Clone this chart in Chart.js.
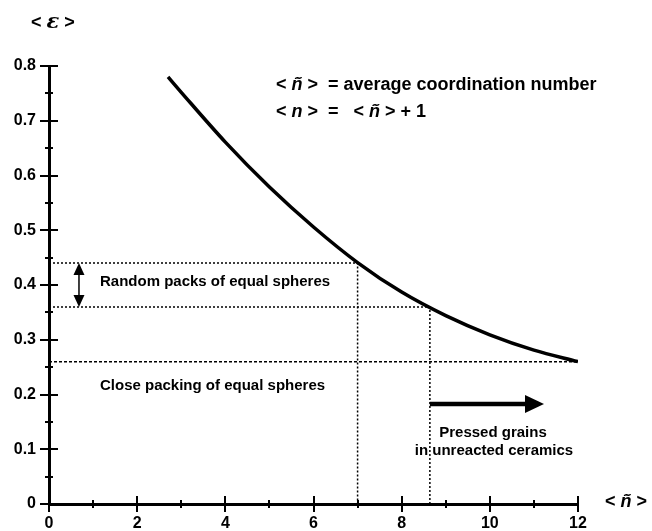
<!DOCTYPE html>
<html>
<head>
<meta charset="utf-8">
<script src="https://cdn.jsdelivr.net/npm/chart.js@4.4.1/dist/chart.umd.min.js"></script>
<style>
  html, body { margin: 0; padding: 0; background: #fff; }
  #wrap { width: 652px; height: 531px; }
</style>
</head>
<body>
<div id="wrap"><canvas id="porosityChart" width="652" height="531"></canvas></div>
<script>
// coordination number <ñ> vs porosity <ε>
const coordNumbers = [2.7, 3, 4, 5, 6, 7, 8, 9, 10, 11, 12];
const porosity = [0.78, 0.752, 0.661, 0.579, 0.506, 0.441, 0.387, 0.344, 0.309, 0.281, 0.26];

// random packs band and close packing
const randomPackN = [7, 8.64];
const randomPackEps = [0.44, 0.36];
const closePackEps = 0.26;

// ticks
const xTicks = [0, 2, 4, 6, 8, 10, 12];
const xMinor = [1, 3, 5, 7, 9, 11];
const yTicks = [0, 0.1, 0.2, 0.3, 0.4, 0.5, 0.6, 0.7, 0.8];
const yMinor = [0.05, 0.15, 0.25, 0.35, 0.45, 0.55, 0.65, 0.75];

const SANS = '"Liberation Sans", Arial, sans-serif';
const BOLD = 'bold 18px ' + SANS;
const BOLD_IT = 'italic bold 18px ' + SANS;

// draw a row of text pieces with different fonts
function drawRuns(ctx, runs, x, y) {
    ctx.textBaseline = 'middle';
    ctx.textAlign = 'left';
    runs.forEach(function (r) {
        ctx.font = r.f;
        ctx.fillText(r.t, x, y);
        x += ctx.measureText(r.t).width;
    });
}

function arrowHead(ctx, tipX, tipY, dx, dy, len, half) {
    // dx,dy = unit direction of the arrow
    const bx = tipX - dx * len, by = tipY - dy * len;
    ctx.beginPath();
    ctx.moveTo(tipX, tipY);
    ctx.lineTo(bx - dy * half, by + dx * half);
    ctx.lineTo(bx + dy * half, by - dx * half);
    ctx.closePath();
    ctx.fill();
}

const extras = {
    id: 'extras',
    afterDraw: function (chart) {
        const ctx = chart.ctx;
        const xs = chart.scales.x, ys = chart.scales.y;
        const x0 = xs.getPixelForValue(0), y0 = ys.getPixelForValue(0);
        ctx.save();
        ctx.strokeStyle = '#000';
        ctx.fillStyle = '#000';

        // tick marks
        ctx.lineWidth = 2;
        ctx.beginPath();
        yTicks.forEach(function (v) {
            const p = Math.round(ys.getPixelForValue(v));
            ctx.moveTo(x0 - 9, p); ctx.lineTo(v === 0 ? x0 : x0 + 9, p);
        });
        yMinor.forEach(function (v) {
            const p = Math.round(ys.getPixelForValue(v));
            ctx.moveTo(x0 - 4, p); ctx.lineTo(x0 + 4, p);
        });
        xTicks.forEach(function (v) {
            const p = Math.round(xs.getPixelForValue(v));
            ctx.moveTo(p, v === 0 ? y0 : y0 - 8); ctx.lineTo(p, y0 + 8);
        });
        xMinor.forEach(function (v) {
            const p = Math.round(xs.getPixelForValue(v));
            ctx.moveTo(p, y0 - 4); ctx.lineTo(p, y0 + 4);
        });
        ctx.stroke();

        // axis titles
        drawRuns(ctx, [
            { t: '< ', f: 'bold 18px ' + SANS },
            { t: 'ε', f: 'italic bold 21px "DejaVu Serif", serif' },
            { t: ' >', f: 'bold 18px ' + SANS }
        ], 31, 23);
        drawRuns(ctx, [
            { t: '< ', f: 'bold 18px ' + SANS },
            { t: 'ñ', f: 'italic bold 18px ' + SANS },
            { t: ' >', f: 'bold 18px ' + SANS }
        ], 605, 502);

        // legend-like notes
        drawRuns(ctx, [
            { t: '< ', f: BOLD }, { t: 'ñ', f: BOLD_IT },
            { t: ' >  = average coordination number', f: BOLD }
        ], 276, 85);
        drawRuns(ctx, [
            { t: '< ', f: BOLD }, { t: 'n', f: BOLD_IT },
            { t: ' >  =   < ', f: BOLD }, { t: 'ñ', f: BOLD_IT },
            { t: ' > + 1', f: BOLD }
        ], 276, 112);

        // annotations
        ctx.font = 'bold 15px ' + SANS;
        ctx.textAlign = 'left';
        ctx.textBaseline = 'middle';
        ctx.fillText('Random packs of equal spheres', 100, 282);
        ctx.fillText('Close packing of equal spheres', 100, 386);
        ctx.textAlign = 'center';
        ctx.fillText('Pressed grains', 493, 433);
        ctx.fillText('in unreacted ceramics', 494, 451);

        // double arrow for the random packing band
        const ax = xs.getPixelForValue(0.68);
        const aTop = ys.getPixelForValue(randomPackEps[0]);
        const aBot = ys.getPixelForValue(randomPackEps[1]);
        ctx.lineWidth = 1.5;
        ctx.beginPath();
        ctx.moveTo(ax, aTop + 8); ctx.lineTo(ax, aBot - 8);
        ctx.stroke();
        arrowHead(ctx, ax, aTop, 0, -1, 12, 5.5);
        arrowHead(ctx, ax, aBot, 0, 1, 12, 5.5);

        // thick arrow towards higher coordination
        const bx0 = xs.getPixelForValue(randomPackN[1]);
        const by = 404;
        ctx.lineWidth = 4.5;
        ctx.beginPath();
        ctx.moveTo(bx0, by); ctx.lineTo(527, by);
        ctx.stroke();
        arrowHead(ctx, 544, by, 1, 0, 19, 9);

        ctx.restore();
    }
};

const dotted = { borderColor: '#000', borderWidth: 1.5, borderDash: [2, 2], pointRadius: 0, fill: false, tension: 0 };

const config = {
    type: 'line',
    data: {
        datasets: [{
            label: 'porosity',
            data: coordNumbers.map(function (n, i) { return { x: n, y: porosity[i] }; }),
            borderColor: '#000',
            borderWidth: 3.5,
            pointRadius: 0,
            cubicInterpolationMode: 'monotone',
            fill: false
        },
        Object.assign({}, dotted, {
            label: 'upper random pack',
            data: [{ x: 0, y: randomPackEps[0] }, { x: randomPackN[0], y: randomPackEps[0] }, { x: randomPackN[0], y: 0 }]
        }),
        Object.assign({}, dotted, {
            label: 'lower random pack',
            data: [{ x: 0, y: randomPackEps[1] }, { x: randomPackN[1], y: randomPackEps[1] }, { x: randomPackN[1], y: 0 }]
        }),
        Object.assign({}, dotted, {
            label: 'close packing',
            borderDash: [3, 2],
            data: [{ x: 0, y: closePackEps }, { x: 12, y: closePackEps }]
        })]
    },
    plugins: [extras],
    options: {
        responsive: false,
        animation: false,
        layout: { padding: { top: 66, right: 74, left: 0, bottom: 0 } },
        scales: {
            x: {
                type: 'linear',
                min: 0,
                max: 12,
                afterFit: function (s) { s.height = 27; },
                afterBuildTicks: function (s) { s.ticks = xTicks.map(function (v) { return { value: v }; }); },
                ticks: {
                    color: '#000',
                    padding: 2,
                    font: { family: SANS, size: 16, weight: 'bold' },
                    maxRotation: 0
                },
                grid: { display: true, drawOnChartArea: false, drawTicks: true, tickLength: 8, color: 'rgba(0,0,0,0)' },
                border: { display: true, color: '#000', width: 3 }
            },
            y: {
                type: 'linear',
                min: 0,
                max: 0.8,
                afterFit: function (s) { s.width = 49; },
                afterBuildTicks: function (s) { s.ticks = yTicks.map(function (v) { return { value: v }; }); },
                ticks: {
                    color: '#000',
                    padding: 3,
                    font: { family: SANS, size: 16, weight: 'bold' },
                    callback: function (v) { return v === 0 ? '0' : v.toFixed(1); }
                },
                grid: { display: true, drawOnChartArea: false, drawTicks: true, tickLength: 10, color: 'rgba(0,0,0,0)' },
                border: { display: true, color: '#000', width: 3 }
            }
        },
        plugins: {
            legend: { display: false },
            tooltip: { enabled: false }
        }
    }
};

const porosityChart = new Chart(document.getElementById('porosityChart'), config);
</script>
</body>
</html>
